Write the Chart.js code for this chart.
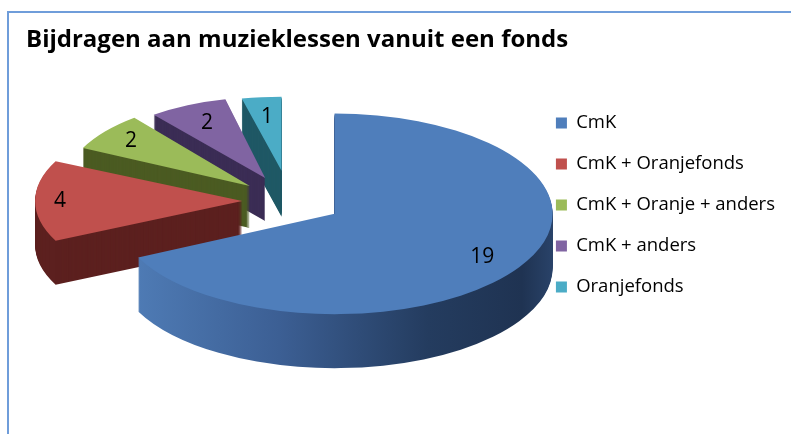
<!DOCTYPE html>
<html>
<head>
  <title>Bijdragen aan muzieklessen vanuit een fonds</title>
  <script src="https://cdn.jsdelivr.net/npm/chart.js"></script>
  <style>
    body { margin: 0; background: #fff; overflow: hidden; }
    #frame { position: absolute; left: 7px; top: 11px; width: 900px; height: 600px;
             border: 2px solid #6f9dda; box-sizing: border-box; }
    #chart { position: absolute; left: 0; top: 0; }
  </style>
</head>
<body>
  <div id="frame"></div>
  <canvas id="chart" width="791" height="434"></canvas>

  <script>
    // data
    const categories = ['CmK', 'CmK + Oranjefonds', 'CmK + Oranje + anders', 'CmK + anders', 'Oranjefonds'];
    const counts = [19, 4, 2, 2, 1];

    const topColors = ['#4f7ebb', '#c0504d', '#9bbb59', '#8064a2', '#4bacc6'];
    const sideColors = [null, '#5c201f', '#4b5b22', '#3b2d55', '#1f5865'];

    // fake perspective: every slice gets its own squash, lift and wall height
    const explode = [53, 50, 60, 69, 89];
    const scaleX = [1, 0.95, 0.85, 0.82, 0.82];
    const scaleY = [0.46, 0.42, 0.40, 0.37, 0.34];
    const depth = [54, 44, 42, 43, 46];
    const labelAt = [0.8, 0.88, 0.82, 0.75, 0.73];
    const drawOrder = [4, 3, 2, 1, 0];
    const pieShift = { x: 10, y: -4 };

    const pie3d = {
      id: 'pie3d',
      beforeDatasetDraw(chart, args) {
        const ctx = chart.ctx;
        const arcs = args.meta.data;
        const cx = arcs[0].x, cy = arcs[0].y;

        const paint = (i, drop, fill) => {
          const arc = arcs[i];
          const mid = (arc.startAngle + arc.endAngle) / 2;
          const ex = Math.cos(mid) * explode[i], ey = Math.sin(mid) * explode[i];
          ctx.save();
          ctx.translate(cx + pieShift.x, cy + pieShift.y + drop);
          ctx.scale(scaleX[i], scaleY[i]);
          ctx.translate(-cx + ex, -cy + ey);
          if (typeof fill === 'function') fill = fill(ctx, ex * scaleX[i] + pieShift.x);
          const saved = arc.options;
          arc.options = Object.assign({}, saved, { backgroundColor: fill, borderWidth: 0, offset: 0 });
          arc.draw(ctx);
          arc.options = saved;
          ctx.restore();
        };

        const blueSide = (ctx, dx) => {
          const g = ctx.createLinearGradient(130 - dx, 0, 556 - dx, 0);
          g.addColorStop(0, '#4f7cb6');
          g.addColorStop(0.35, '#3c5f94');
          g.addColorStop(0.7, '#243c5f');
          g.addColorStop(0.92, '#1f3352');
          g.addColorStop(1, '#2a446b');
          return g;
        };

        drawOrder.forEach(i => {
          for (let d = depth[i]; d > 0; d--) paint(i, d, sideColors[i] || blueSide);
          paint(i, 0, topColors[i]);
        });
        return false;
      },
      afterDatasetsDraw(chart) {
        const ctx = chart.ctx;
        const arcs = chart.getDatasetMeta(0).data;
        ctx.save();
        ctx.font = '21px "Open Sans"';
        ctx.fillStyle = '#000';
        ctx.textAlign = 'center';
        ctx.textBaseline = 'middle';
        arcs.forEach((arc, i) => {
          const mid = (arc.startAngle + arc.endAngle) / 2;
          const r = explode[i] + arc.outerRadius * labelAt[i];
          ctx.fillText(String(counts[i]),
            arc.x + pieShift.x + Math.cos(mid) * r * scaleX[i],
            arc.y + pieShift.y + Math.sin(mid) * r * scaleY[i]);
        });
        ctx.restore();
      }
    };

    Chart.defaults.font.family = '"Open Sans"';
    Chart.defaults.color = '#000';

    const ctx = document.getElementById('chart').getContext('2d');
    new Chart(ctx, {
      type: 'pie',
      data: {
        labels: categories,
        datasets: [{
          data: counts,
          backgroundColor: topColors,
          borderWidth: 0,
          radius: 218,
          clip: false
        }]
      },
      options: {
        responsive: false,
        animation: false,
        devicePixelRatio: 1,
        layout: { padding: { left: 26, right: 6, top: 24, bottom: 96 } },
        plugins: {
          title: {
            display: true,
            text: 'Bijdragen aan muzieklessen vanuit een fonds',
            align: 'start',
            color: '#000',
            font: { size: 24, weight: 'bold' },
            padding: { top: 2, bottom: 17 }
          },
          legend: {
            position: 'right',
            align: 'center',
            fullSize: false,
            labels: {
              boxWidth: 11,
              boxHeight: 11,
              padding: 22.5,
              color: '#000',
              font: { size: 18.5 }
            }
          },
          tooltip: { enabled: false }
        }
      },
      plugins: [pie3d]
    });
  </script>
</body>
</html>
